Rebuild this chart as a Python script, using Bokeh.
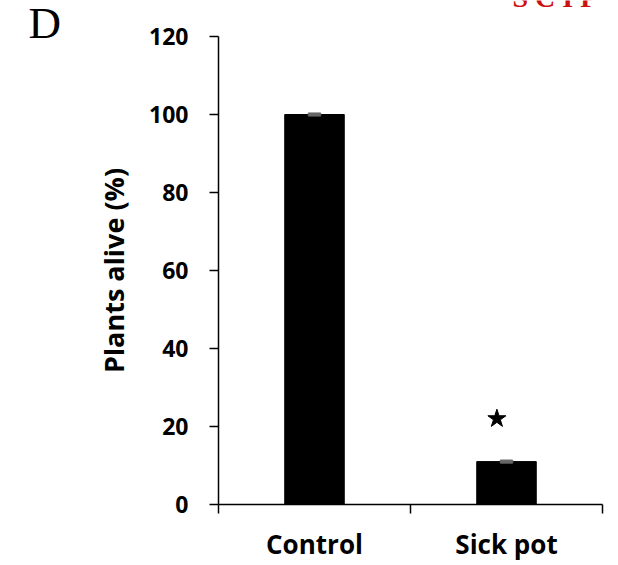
from bokeh.plotting import figure
from bokeh.models import Label, FixedTicker, Range1d
from bokeh.embed import file_html
from bokeh.resources import INLINE

categories = ["Control", "Sick pot"]
plants_alive = [100, 11]
errors = [0.4, 0.4]
significance = ["", "★"]
y_ticks = [0, 20, 40, 60, 80, 100, 120]
y_max = 120

W, H = 618, 565
# the frame covers the whole canvas; the axes sit at fixed data locations
left_px, right_px, top_px, bottom_px = 218, 602, 36, 504
px_per_x = (right_px - left_px) / len(categories)
px_per_y = (bottom_px - top_px) / y_max

xs = [i + 0.5 for i in range(len(categories))]

p = figure(width=W, height=H, output_backend="svg", toolbar_location=None,
           x_range=Range1d(-left_px / px_per_x, (W - left_px) / px_per_x),
           y_range=Range1d(-(H - bottom_px) / px_per_y, y_max + top_px / px_per_y),
           min_border=0)
p.outline_line_color = None
p.xgrid.visible = False
p.ygrid.visible = False
p.title.visible = False

p.vbar(x=xs, top=plants_alive, width=0.31, color="black")
p.vbar(x=xs, bottom=[v - e for v, e in zip(plants_alive, errors)],
       top=[v + e for v, e in zip(plants_alive, errors)], width=0.065, color="#666666")

star_x = [x - 0.05 for x, s in zip(xs, significance) if s]
star_y = [v + 11 for v, s in zip(plants_alive, significance) if s]
p.scatter(x=star_x, y=star_y, marker="star", size=19, color="black")

font = "Open Sans"
p.yaxis.fixed_location = 0
p.yaxis.bounds = (0, y_max)
p.yaxis.ticker = FixedTicker(ticks=y_ticks)
p.yaxis.axis_label = "Plants alive (%)"
p.yaxis.axis_label_text_font = font
p.yaxis.axis_label_text_font_style = "bold"
p.yaxis.axis_label_text_font_size = "27px"
p.yaxis.axis_label_text_color = "black"
p.yaxis.axis_label_standoff = 14
p.yaxis.major_label_text_font = font
p.yaxis.major_label_text_font_style = "bold"
p.yaxis.major_label_text_font_size = "23px"
p.yaxis.major_label_text_color = "black"
p.yaxis.major_label_standoff = 21
p.yaxis.major_tick_out = 9
p.yaxis.major_tick_in = 0
p.yaxis.minor_tick_out = 0
p.yaxis.minor_tick_in = 0
p.yaxis.axis_line_width = 1.5
p.yaxis.major_tick_line_width = 1.5

p.xaxis.fixed_location = 0
p.xaxis.bounds = (0, len(categories))
p.xaxis.ticker = FixedTicker(ticks=xs, minor_ticks=list(range(len(categories) + 1)))
p.xaxis.major_label_overrides = {x: c for x, c in zip(xs, categories)}
p.xaxis.major_label_text_font = font
p.xaxis.major_label_text_font_style = "bold"
p.xaxis.major_label_text_font_size = "26px"
p.xaxis.major_label_text_color = "black"
p.xaxis.major_label_standoff = 12
p.xaxis.major_tick_out = 0
p.xaxis.major_tick_in = 0
p.xaxis.minor_tick_out = 9
p.xaxis.minor_tick_in = 0
p.xaxis.axis_line_width = 1.5
p.xaxis.minor_tick_line_width = 1.5

p.add_layout(Label(x=28, y=H - 22, x_units="screen", y_units="screen", text="D",
                   text_font="Liberation Serif", text_font_size="45px",
                   text_baseline="alphabetic", text_color="black"))
p.add_layout(Label(x=512, y=H + 3, x_units="screen", y_units="screen", text="S C I P",
                   text_font="Liberation Serif", text_font_style="bold",
                   text_baseline="alphabetic", text_font_size="28px",
                   text_color="#cc1111"))

open("out.html", "w").write(file_html(p, INLINE))
